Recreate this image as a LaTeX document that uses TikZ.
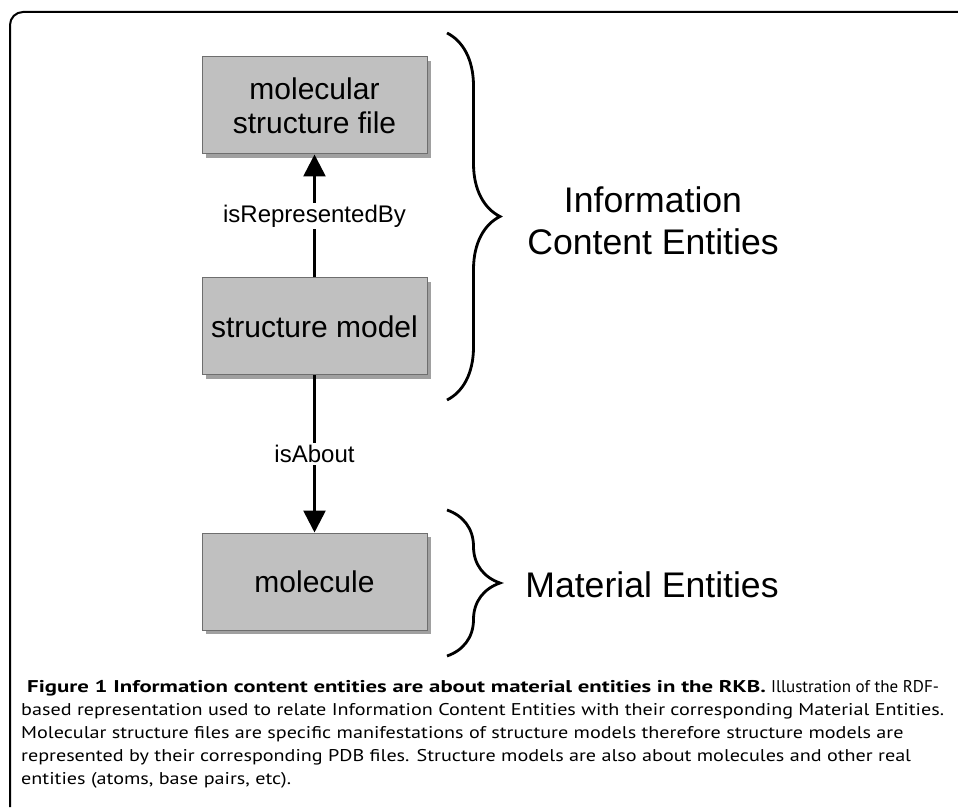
\documentclass[tikz,border=0pt]{standalone}
\usepackage{fontspec}
\setmainfont{Liberation Sans}
\newfontfamily\capfont{PT Sans}[FakeStretch=1.185]
\newfontfamily\capbold{PT Sans}[FakeStretch=1.34]
\newfontfamily\capnarrow{PT Sans}[FakeStretch=1.0]
\usepackage{tikz}
\usetikzlibrary{arrows.meta, positioning, shadows, decorations.pathreplacing}

\definecolor{boxgray}{RGB}{192,192,192}
\definecolor{boxedge}{RGB}{110,110,110}
\definecolor{shadegray}{RGB}{160,160,160}

\begin{document}
\begin{tikzpicture}[
    x=1pt, y=1pt,
    entity/.style={rectangle, draw=boxedge, line width=1pt, fill=boxgray, minimum width=225pt, minimum height=97pt, align=center, font=\fontsize{30}{34}\selectfont, drop shadow={shadow xshift=4pt, shadow yshift=-4pt, fill=shadegray, opacity=1}},
    relation/.style={draw, line width=2.7pt, -{Triangle[width=22pt, length=22pt]}},
    rellabel/.style={fill=white, inner sep=2pt, font=\fontsize{24}{28}\selectfont},
    group/.style={draw, line width=2.8pt, decorate, decoration={brace, amplitude=53pt}},
    grouplabel/.style={align=center, inner sep=0pt, font=\fontsize{35.6}{42}\selectfont}
]
    \useasboundingbox (0,0) rectangle (958,807);
    % Frame
    \draw[line width=2pt, rounded corners=13pt] (958,795) -- (10,795) -- (10,0);

    % Nodes
    \node [entity] (file) at (314.5,701.5) {molecular\\structure file};
    \node [entity, below=123pt of file] (model) {structure model};
    \node [entity, below=157pt of model] (molecule) {molecule};

    % Paths
    \path [relation] (model) -- (file) node[midway, rellabel] {isRepresentedBy};
    \path [relation] (model) -- (molecule) node[midway, rellabel] {isAbout};

    % Braces
    \coordinate (ice top) at (447,774);
    \coordinate (ice bottom) at (447,407);
    \coordinate (me top) at (447,297);
    \coordinate (me bottom) at (447,151);
    \draw [group] (ice top) -- (ice bottom);
    \draw [group] (me top) -- (me bottom);
    \node [grouplabel] (ice) at (653,586) {Information\\Content Entities};
    \node [grouplabel] (me) at (652,222) {Material Entities};

    % Caption
    \node [anchor=north west, inner sep=0pt, align=left, font=\capfont\fontsize{17}{23}\selectfont] (caption) at (21,127)
        {\hspace*{6pt}{\capbold\bfseries Figure 1 Information content entities are about material entities in the RKB.} {\capnarrow Illustration of the RDF-}\\
         based representation used to relate Information Content Entities with their corresponding Material Entities.\\
         Molecular structure files are specific manifestations of structure models therefore structure models are\\
         represented by their corresponding PDB files. Structure models are also about molecules and other real\\
         entities (atoms, base pairs, etc).};
\end{tikzpicture}
\end{document}
